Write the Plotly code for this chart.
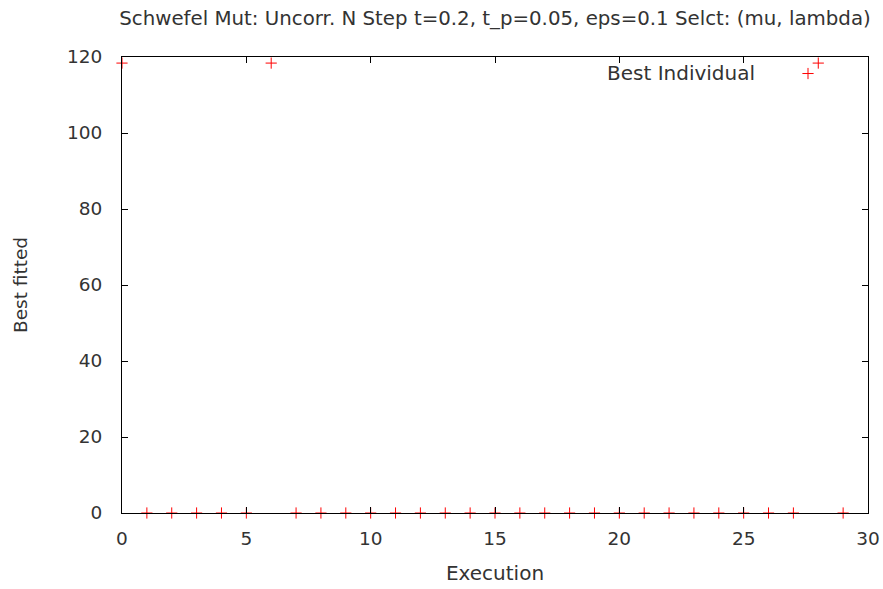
import plotly.graph_objects as go

# Best fitness reached in each of the 30 executions
executions = list(range(30))
best_fitted = [118.4, 0, 0, 0, 0, 0, 118.4, 0, 0, 0,
               0, 0, 0, 0, 0, 0, 0, 0, 0, 0,
               0, 0, 0, 0, 0, 0, 0, 0, 118.4, 0]

title_text = "Schwefel Mut: Uncorr. N Step t=0.2, t_p=0.05, eps=0.1 Selct: (mu, lambda)"
series_name = "Best Individual"
x_ticks = [0, 5, 10, 15, 20, 25, 30]
y_ticks = [0, 20, 40, 60, 80, 100, 120]

font_family = "DejaVu Sans, Verdana, sans-serif"
text_color = "#333333"


def fnt(size):
    return dict(family=font_family, size=size, color=text_color)


fig = go.Figure()
fig.add_trace(go.Scatter(
    x=executions, y=best_fitted, mode="markers", name=" ",
    marker=dict(symbol="cross-thin", size=8, line=dict(color="#ff0000", width=1), color="#ff0000"),
    cliponaxis=False, showlegend=True,
))

axis_common = dict(
    showgrid=False, zeroline=False, showline=True, linecolor="#000000", linewidth=1,
    mirror="ticks", ticks="inside", ticklen=6, tickcolor="#000000", tickwidth=1,
    tickfont=fnt(18.5), automargin=False,
)

# Key label sits to the left of its sample marker
fig.add_annotation(
    text=series_name, xref="paper", yref="paper",
    x=(757 - 122) / 746, y=(513 - 73) / 456, xanchor="right", yanchor="middle",
    showarrow=False, font=fnt(20),
)

fig.update_layout(
    width=883, height=589,
    margin=dict(l=122, r=15, t=57, b=76),
    paper_bgcolor="white", plot_bgcolor="white",
    font=fnt(18.5),
    title=dict(text=title_text, x=0.5, xref="paper", xanchor="center",
               y=1 - 18 / 589, yanchor="middle", font=fnt(19.8), automargin=False),
    xaxis=dict(range=[0, 30], tickvals=x_ticks, ticklabelstandoff=9,
               title=dict(text="Execution", standoff=17, font=fnt(20)),
               **axis_common),
    yaxis=dict(range=[0, 120], tickvals=y_ticks, ticklabelstandoff=15,
               title=dict(text="Best fitted", standoff=34, font=fnt(18.5)),
               **axis_common),
    legend=dict(
        x=(788 - 122) / 746, y=(513 - 55) / 456, xanchor="left", yanchor="top",
        bgcolor="rgba(0,0,0,0)", borderwidth=0,
        font=fnt(18.5), itemwidth=30,
    ),
)

fig.write_html("out.html")
